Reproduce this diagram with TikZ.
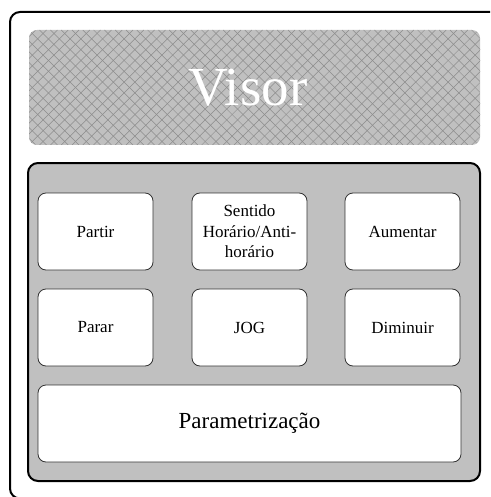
\documentclass[tikz,border=0pt]{standalone}
\usepackage{fontspec}
\setmainfont{Liberation Serif}
\definecolor{cinza}{HTML}{C0C0C0}
\definecolor{trama}{HTML}{8C8C8C}
\tikzset{
    botao/.style={draw=black!80, fill=white, line width=0.8pt,
        rounded corners=8pt, minimum width=115pt, minimum height=77pt,
        inner sep=0pt, align=center, font=\fontsize{17}{20.5}\selectfont},
    hachura/.style={draw=trama, line width=0.5pt},
}
\begin{document}
\begin{tikzpicture}[x=1pt,y=-1pt]
    \useasboundingbox (0,0) rectangle (490,497);
    % moldura externa (cortada a direita e embaixo)
    \draw[line width=2pt, rounded corners=10pt]
        (490,12) -- (10,12) -- (10,498.5) -- (40,498.5);
    % visor hachurado
    \fill[cinza, rounded corners=8pt] (29,30) rectangle (480,145);
    \begin{scope}
        \clip[rounded corners=8pt] (29,30) rectangle (480,145);
        \foreach \k in {-90,-79.2,...,485} {
            \draw[hachura] (\k,30) -- ++(115,115);
            \draw[hachura] (\k,145) -- ++(115,-115);
        }
    \end{scope}
    \node[text=white, font=\fontsize{55}{60}\selectfont] (visor)
        at (248,87.5) {Visor};
    % painel de botoes
    \node[draw, fill=cinza, line width=2pt, rounded corners=10pt,
        minimum width=452pt, minimum height=318pt] (painel) at (254,322) {};
    \node[botao] (partir)   at (95.5,231.5)  {Partir};
    \node[botao] (sentido)  at (249.5,231.5) {Sentido\\Horário/Anti-\\horário};
    \node[botao] (aumentar) at (402.5,231.5) {Aumentar};
    \node[botao] (parar)    at (95.5,327.5)  {Parar};
    \node[botao] (jog)      at (249.5,327.5) {JOG};
    \node[botao] (diminuir) at (402.5,327.5) {Diminuir};
    \node[botao, minimum width=423pt, font=\fontsize{23}{27}\selectfont]
        (param) at (249.5,423.5) {Parametrização};
\end{tikzpicture}
\end{document}
